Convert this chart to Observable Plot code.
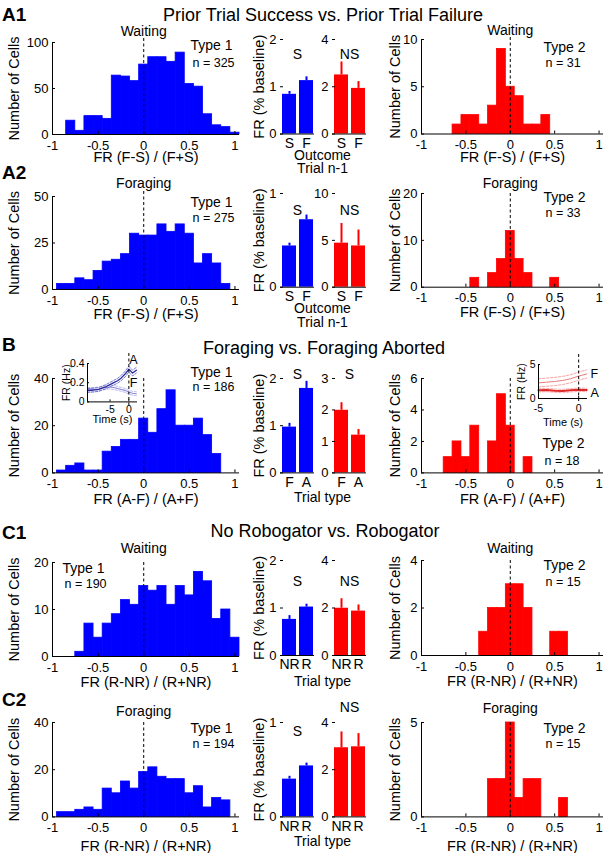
<!DOCTYPE html>
<html><head><meta charset="utf-8">
<script src="https://cdn.jsdelivr.net/npm/d3@7"></script>
<script src="https://cdn.jsdelivr.net/npm/@observablehq/plot@0.6"></script>
<style>
body{margin:0;background:#fff;}
#fig{position:relative;width:604px;height:853px;overflow:hidden;background:#fff;font-family:"Liberation Sans",Arial,Helvetica,sans-serif;color:#000;}
#fig svg{position:absolute;overflow:visible;}
.lbl{position:absolute;left:2px;font-weight:bold;font-size:19px;line-height:1;}
.ttl{position:absolute;font-size:18px;line-height:1;white-space:nowrap;transform:translateX(-50%);}
</style></head><body><div id="fig"></div>
<script>
// ---------- data ----------
const binCenters = [-1,-0.9,-0.8,-0.7,-0.6,-0.5,-0.4,-0.3,-0.2,-0.1,0,0.1,0.2,0.3,0.4,0.5,0.6,0.7,0.8,0.9,1];
const histTicks = [-1,-0.5,0,0.5,1];

const a1Type1Counts = [0,0,15,4,20,20,17,64,63,58,76,84,84,79,89,55,52,22,10,8,2];
const a1Type2Counts = [0,0,0,0,1,2,2,1,3,9,5,4,1,1,2,0,0,0,0,0,0];
const a2Type1Counts = [0,3,3,6,5,10,15,16,19,30,29,29,35,31,35,30,14,19,14,3,0];
const a2Type2Counts = [0,0,0,0,0,0,2,0,3,6,12,6,3,0,0,2,0,0,0,0,0];
const bType1Counts  = [0,1,3,4,1,1,9,11,14,14,23,17,27,35,20,20,23,16,8,0,0];
const bType2Counts  = [0,0,0,1,2,1,3,0,2,5,3,0,1,0,0,0,0,0,0,0,0];
const c1Type1Counts = [0,0,0,1,7,4,7,9,12,11,15,14,15,11,15,13,18,16,8,10,4];
const c1Type2Counts = [0,0,0,0,0,0,0,1,2,2,3,3,2,0,0,1,1,0,0,0,0];
const c2Type1Counts = [0,2,2,3,4,3,12,10,15,12,19,21,17,16,16,10,13,4,8,7,0];
const c2Type2Counts = [0,0,0,0,0,0,0,0,2,2,5,1,2,2,0,0,1,0,0,0,0];

const outcomeCats = ["S","F"];
const abortCats = ["F","A"];
const roboCats = ["NR","R"];
const a1Type1Mean = [0.84,1.13], a1Type1Err = [0.06,0.08];
const a1Type2Mean = [2.5,1.93],  a1Type2Err = [0.55,0.29];
const a2Type1Mean = [0.44,0.72], a2Type1Err = [0.03,0.05];
const a2Type2Mean = [4.7,4.4],   a2Type2Err = [2.1,1.7];
const bType1Mean  = [0.97,1.79], bType1Err  = [0.08,0.15];
const bType2Mean  = [1.99,1.2],  bType2Err  = [0.24,0.18];
const c1Type1Mean = [0.76,1.02], c1Type1Err = [0.08,0.06];
const c1Type2Mean = [1.99,1.87], c1Type2Err = [0.4,0.26];
const c2Type1Mean = [0.40,0.54], c2Type1Err = [0.03,0.03];
const c2Type2Mean = [2.93,2.97], c2Type2Err = [0.67,0.56];

// inset traces (firing rate vs time)
const insetType1Time = [-11,-10,-9,-8,-7,-6,-5,-4,-3,-2,-1,0,1,2];
const insetType1A    = [0.12,0.12,0.125,0.13,0.145,0.16,0.18,0.2,0.22,0.25,0.29,0.34,0.3,0.33];
const insetType1AErr = [0.02,0.02,0.02,0.02,0.02,0.022,0.022,0.024,0.025,0.027,0.03,0.03,0.03,0.03];
const insetType1F    = [0.13,0.13,0.13,0.135,0.145,0.15,0.155,0.15,0.14,0.13,0.12,0.1,0.09,0.085];
const insetType1FErr = [0.02,0.02,0.02,0.02,0.02,0.02,0.02,0.02,0.02,0.02,0.02,0.02,0.02,0.02];
const insetType2Time = [-5,-4,-3,-2,-1,0,1];
const insetType2F    = [2.3,2.4,2.5,2.65,2.9,3.3,3.6];
const insetType2FErr = [0.6,0.6,0.6,0.6,0.6,0.6,0.6];
const insetType2A    = [1.2,1.25,1.15,1.1,1.2,1.3,1.25];
const insetType2AErr = [0.25,0.25,0.25,0.25,0.25,0.25,0.25];

// ---------- drawing ----------
const FONT = '"Liberation Sans", Arial, Helvetica, sans-serif';
const BLUE = "#0000ff", RED = "#ff0000";
const fig = document.getElementById("fig");
const fmt = d => String(d);

function place(svg, left, top) {
  svg.style.left = left + "px";
  svg.style.top = top + "px";
  fig.appendChild(svg);
}
function txt(s, opts) { return Plot.text([s], {text: d => d, textAnchor: "middle", lineAnchor: "middle", ...opts}); }
function ylab(s, dx, size) {
  return Plot.text([s], {text: d => d, frameAnchor: "left", rotate: -90, textAnchor: "middle", lineAnchor: "middle", dx, fontSize: size});
}

function hist(o) {
  const [x0, x1, y0, y1] = o.frame;
  const mt = 34, mb = 40;
  const ml = x0 - o.left, mr = o.right - x1;
  const data = binCenters.map((c, i) => ({c, n: o.counts[i]})).filter(d => d.n > 0);
  const marks = [
    Plot.rectY(data, {x1: d => d.c - 0.05, x2: d => d.c + 0.05, y1: 0, y2: "n", fill: o.color, stroke: o.color, strokeWidth: 0.8}),
    Plot.ruleX([0], {stroke: "#000", strokeDasharray: "3,2.5", strokeWidth: 1, insetTop: o.dashTop || 0}),
    Plot.ruleY([0], {stroke: "#000"}),
    Plot.ruleX([-1], {stroke: "#000"}),
    Plot.axisX(histTicks, {tickSize: -3, tickPadding: 9, tickFormat: fmt, fontSize: 13, label: null}),
    Plot.axisY(o.yticks, {tickSize: -3, tickPadding: 7, tickFormat: fmt, fontSize: 13, label: null}),
    ylab("Number of Cells", o.ylabDx, 14.5),
    txt(o.xlabel, {frameAnchor: "bottom", dy: o.xlabDy, fontSize: 14.5}),
    txt(o.type, {frameAnchor: "top-left", textAnchor: "start", dx: o.typeX - x0, dy: o.typeDy, fontSize: 14}),
    txt(o.n, {frameAnchor: "top-left", textAnchor: "start", dx: o.typeX - x0 + 2, dy: o.nDy, fontSize: 12.5})
  ];
  if (o.cond) marks.push(Plot.text([0], {x: d => d, text: () => o.cond, frameAnchor: "top", textAnchor: "middle", lineAnchor: "middle", dy: o.condDy, fontSize: 14}));
  const svg = Plot.plot({
    width: o.right - o.left, height: mt + (y1 - y0) + mb,
    marginLeft: ml, marginRight: mr, marginTop: mt, marginBottom: mb,
    style: {fontFamily: FONT, background: "transparent", overflow: "visible", color: "#000"},
    x: {domain: [-1, 1.05]},
    y: {domain: [0, o.ymax]},
    marks
  });
  place(svg, o.left, y0 - mt);
}

function bars(o) {
  const [x0, x1, y0, y1] = o.frame;
  const mt = 34, mb = 44;
  const ml = x0 - o.left, mr = o.right - x1;
  const data = o.cats.map((c, i) => ({c, m: o.mean[i], e: o.err[i]}));
  const marks = [
    Plot.barY(data, {x: "c", y: "m", fill: o.color}),
    Plot.ruleX(data, {x: "c", y1: "m", y2: d => d.m + d.e, stroke: o.color, strokeWidth: 2}),
    Plot.ruleY([0], {stroke: "#000"}),
    Plot.axisY(o.yticks, {tickSize: -3, tickPadding: 7, tickFormat: fmt, fontSize: 13, label: null, line: true}),
    Plot.axisX({tickSize: 0, tickPadding: 4, fontSize: 14, label: null}),
    txt(o.sig, {frameAnchor: "top", dy: o.sigDy, fontSize: 14})
  ];
  if (o.ylabel) marks.push(ylab(o.ylabel, -21, 14.5));
  if (o.bottom) o.bottom.forEach((s, i) => marks.push(txt(s, {frameAnchor: "bottom", dx: o.bottomDx, dy: o.bottomDy[i], fontSize: 14})));
  const svg = Plot.plot({
    width: o.right - o.left, height: mt + (y1 - y0) + mb,
    marginLeft: ml, marginRight: mr, marginTop: mt, marginBottom: mb,
    style: {fontFamily: FONT, background: "transparent", overflow: "visible", color: "#000"},
    x: {type: "band", domain: o.cats, paddingInner: 0.2, paddingOuter: 0.05},
    y: {domain: [0, o.ymax]},
    marks
  });
  place(svg, o.left, y0 - mt);
}

function series(ts, ys, opts) {
  return Plot.line(ts.map((t, i) => ({t, v: ys[i]})), {x: "t", y: "v", ...opts});
}
function plus(ys, es, s) { return ys.map((y, i) => y + s * es[i]); }

function inset(o) {
  const [x0, x1, y0, y1] = o.frame;
  const mt = 14, mb = 30, ml = 26, mr = 14;
  const marks = [];
  o.traces.forEach(tr => {
    marks.push(series(o.time, plus(tr.mean, tr.err, 1), {stroke: tr.semColor, strokeWidth: 0.9, strokeDasharray: "2.5,1.5"}));
    marks.push(series(o.time, plus(tr.mean, tr.err, -1), {stroke: tr.semColor, strokeWidth: 0.9, strokeDasharray: "2.5,1.5"}));
    marks.push(series(o.time, tr.mean, {stroke: tr.color, strokeWidth: tr.width}));
  });
  marks.push(
    Plot.ruleX([0], {stroke: "#000", strokeDasharray: "3,2.5", insetTop: -10, insetBottom: -4}),
    Plot.ruleY([0], {stroke: "#000"}),
    Plot.ruleX([o.xdomain[0]], {stroke: "#000"}),
    Plot.axisX(o.xticks, {tickSize: -2, tickPadding: o.xtickPad, tickFormat: fmt, fontSize: 10.5, label: null}),
    Plot.axisY(o.yticks, {tickSize: -2, tickPadding: 5, tickFormat: fmt, fontSize: 10.5, label: null}),
    ylab("FR (Hz)", o.ylabDx, 10.5),
    txt("Time (s)", {frameAnchor: "bottom", dy: o.xlabDy, fontSize: 11})
  );
  o.labels.forEach(l => marks.push(txt(l.s, {frameAnchor: "top-right", textAnchor: l.anchor, dx: l.dx, dy: l.dy, fontSize: 12.5})));
  const svg = Plot.plot({
    width: ml + (x1 - x0) + mr, height: mt + (y1 - y0) + mb,
    marginLeft: ml, marginRight: mr, marginTop: mt, marginBottom: mb,
    style: {fontFamily: FONT, background: "transparent", overflow: "visible", color: "#000"},
    x: {domain: o.xdomain},
    y: {domain: o.ydomain},
    marks
  });
  place(svg, x0 - ml, y0 - mt);
}

function row(r) {
  hist({left: 0, right: 246, frame: [52, 239, r.bt, r.bb], color: BLUE, counts: r.c1, ymax: r.b.ymax, yticks: r.b.yticks,
        ylabDx: -38, xlabel: r.xlabel, xlabDy: r.xlabDy, cond: r.cond, condDy: r.b.condDy, dashTop: r.b.dashTop,
        type: "Type 1", n: r.b.n, typeX: r.b.typeX, typeDy: r.b.typeDy, nDy: r.b.nDy});
  bars({left: 245, right: 320, frame: [280, 314, r.rt, r.rb], color: BLUE, cats: r.cats, mean: r.m1, err: r.e1,
        ymax: r.bb1.ymax, yticks: r.bb1.yticks, sig: r.bb1.sig, sigDy: r.bb1.sigDy, ylabel: "FR (% baseline)",
        bottom: r.bottom, bottomDx: 25, bottomDy: r.bottomDy});
  bars({left: 318, right: 372, frame: [332, 366, r.rt, r.rb], color: RED, cats: r.cats, mean: r.m2, err: r.e2,
        ymax: r.bb2.ymax, yticks: r.bb2.yticks, sig: r.bb2.sig, sigDy: r.bb2.sigDy});
  hist({left: 380, right: 604, frame: [421, 603, r.rt, r.rb], color: RED, counts: r.c2, ymax: r.r.ymax, yticks: r.r.yticks,
        ylabDx: -26, xlabel: r.xlabel, xlabDy: r.xlabDy, cond: r.cond, condDy: r.r.condDy, dashTop: r.r.dashTop,
        type: "Type 2", n: r.r.n, typeX: r.r.typeX, typeDy: r.r.typeDy, nDy: r.r.nDy});
}

row({bt: 42.3, bb: 134.3, rt: 38.8, rb: 133.3, xlabel: "FR (F-S) / (F+S)", xlabDy: 23, cond: "Waiting",
     c1: a1Type1Counts, c2: a1Type2Counts, cats: outcomeCats, m1: a1Type1Mean, e1: a1Type1Err, m2: a1Type2Mean, e2: a1Type2Err,
     b: {ymax: 100, yticks: [0,50,100], condDy: -11, n: "n = 325", typeX: 190, typeDy: 3, nDy: 20, dashTop: -4},
     bb1: {ymax: 2, yticks: [0,1,2], sig: "S", sigDy: 15},
     bb2: {ymax: 4, yticks: [0,2,4], sig: "NS", sigDy: 15},
     r: {ymax: 10, yticks: [0,5,10], condDy: -9, n: "n = 31", typeX: 543, typeDy: 8, nDy: 23, dashTop: -2},
     bottom: ["Outcome", "Trial n-1"], bottomDy: [22, 35]});

row({bt: 196, bb: 289, rt: 193.3, rb: 287, xlabel: "FR (F-S) / (F+S)", xlabDy: 25, cond: "Foraging",
     c1: a2Type1Counts, c2: a2Type2Counts, cats: outcomeCats, m1: a2Type1Mean, e1: a2Type1Err, m2: a2Type2Mean, e2: a2Type2Err,
     b: {ymax: 50, yticks: [0,25,50], condDy: -13, n: "n = 275", typeX: 190, typeDy: 6, nDy: 21, dashTop: -5},
     bb1: {ymax: 1, yticks: [0,1], sig: "S", sigDy: 17},
     bb2: {ymax: 10, yticks: [0,5,10], sig: "NS", sigDy: 17},
     r: {ymax: 20, yticks: [0,10,20], condDy: -10, n: "n = 33", typeX: 543, typeDy: 4, nDy: 20},
     bottom: ["Outcome", "Trial n-1"], bottomDy: [21, 35]});

row({bt: 378.3, bb: 472.7, rt: 378.3, rb: 472.7, xlabel: "FR (A-F) / (A+F)", xlabDy: 26, cond: null,
     c1: bType1Counts, c2: bType2Counts, cats: abortCats, m1: bType1Mean, e1: bType1Err, m2: bType2Mean, e2: bType2Err,
     b: {ymax: 40, yticks: [0,20,40], n: "n = 186", typeX: 190, typeDy: -6, nDy: 9},
     bb1: {ymax: 2, yticks: [0,1,2], sig: "S", sigDy: -4},
     bb2: {ymax: 3, yticks: [0,1,2,3], sig: "S", sigDy: -4},
     r: {ymax: 6, yticks: [0,2,4,6], n: "n = 18", typeX: 542, typeDy: 65, nDy: 83},
     bottom: ["Trial type"], bottomDy: [25]});

row({bt: 561.7, bb: 655.7, rt: 560, rb: 655, xlabel: "FR (R-NR) / (R+NR)", xlabDy: 26, cond: "Waiting",
     c1: c1Type1Counts, c2: c1Type2Counts, cats: roboCats, m1: c1Type1Mean, e1: c1Type1Err, m2: c1Type2Mean, e2: c1Type2Err,
     b: {ymax: 20, yticks: [0,10,20], condDy: -14, n: "n = 190", typeX: 62, typeDy: 6, nDy: 21},
     bb1: {ymax: 2, yticks: [0,1,2], sig: "S", sigDy: 21},
     bb2: {ymax: 4, yticks: [0,2,4], sig: "NS", sigDy: 21},
     r: {ymax: 4, yticks: [0,2,4], condDy: -12, n: "n = 15", typeX: 543, typeDy: 5, nDy: 21},
     bottom: ["Trial type"], bottomDy: [26]});

row({bt: 722.3, bb: 816.7, rt: 722.3, rb: 816.7, xlabel: "FR (R-NR) / (R+NR)", xlabDy: 29, cond: "Foraging",
     c1: c2Type1Counts, c2: c2Type2Counts, cats: roboCats, m1: c2Type1Mean, e1: c2Type1Err, m2: c2Type2Mean, e2: c2Type2Err,
     b: {ymax: 40, yticks: [0,20,40], condDy: -11, n: "n = 194", typeX: 190, typeDy: 6, nDy: 22},
     bb1: {ymax: 1, yticks: [0,1], sig: "S", sigDy: 9},
     bb2: {ymax: 4, yticks: [0,2,4], sig: "NS", sigDy: -15},
     r: {ymax: 5, yticks: [0,5], condDy: -14, n: "n = 15", typeX: 543, typeDy: 6, nDy: 22},
     bottom: ["Trial type"], bottomDy: [25]});

// insets in row B
inset({frame: [87, 137, 363.3, 401.7], xdomain: [-11, 2.3], ydomain: [0, 0.4], xticks: [-5, 0], yticks: [0, 0.2, 0.4],
       time: insetType1Time, xtickPad: 6, ylabDx: -21, xlabDy: 18,
       traces: [
         {mean: insetType1F, err: insetType1FErr, color: "#8a8ad8", semColor: "#b4b4ec", width: 1.1},
         {mean: insetType1A, err: insetType1AErr, color: "#2b2b9e", semColor: "#6a6acc", width: 1.3}
       ],
       labels: [{s: "A", anchor: "middle", dx: -4, dy: -3}, {s: "F", anchor: "middle", dx: -4, dy: 20}]});
inset({frame: [538, 587, 364.3, 398.3], xdomain: [-5, 1.1], ydomain: [0, 5], xticks: [-5, 0], yticks: [0, 5],
       time: insetType2Time, xtickPad: 8, ylabDx: -17, xlabDy: 24,
       traces: [
         {mean: insetType2F, err: insetType2FErr, color: "#ec7a7a", semColor: "#f29c9c", width: 1},
         {mean: insetType2A, err: insetType2AErr, color: "#e02a2a", semColor: "#f4aaaa", width: 2}
       ],
       labels: [{s: "F", anchor: "start", dx: 3, dy: 9}, {s: "A", anchor: "start", dx: 3, dy: 28}]});

// panel labels and section titles
function html(cls, text, left, top) {
  const d = document.createElement("div");
  d.className = cls; d.textContent = text;
  if (left !== null) d.style.left = left + "px";
  d.style.top = top + "px";
  fig.appendChild(d);
}
html("lbl", "A1", null, 4.5);
html("lbl", "A2", null, 162.5);
html("lbl", "B", null, 334.5);
html("lbl", "C1", null, 522.5);
html("lbl", "C2", null, 689.5);
html("ttl", "Prior Trial Success vs. Prior Trial Failure", 323, 5.5);
html("ttl", "Foraging vs. Foraging Aborted", 324, 339);
html("ttl", "No Robogator vs. Robogator", 325, 522);
</script></body></html>
